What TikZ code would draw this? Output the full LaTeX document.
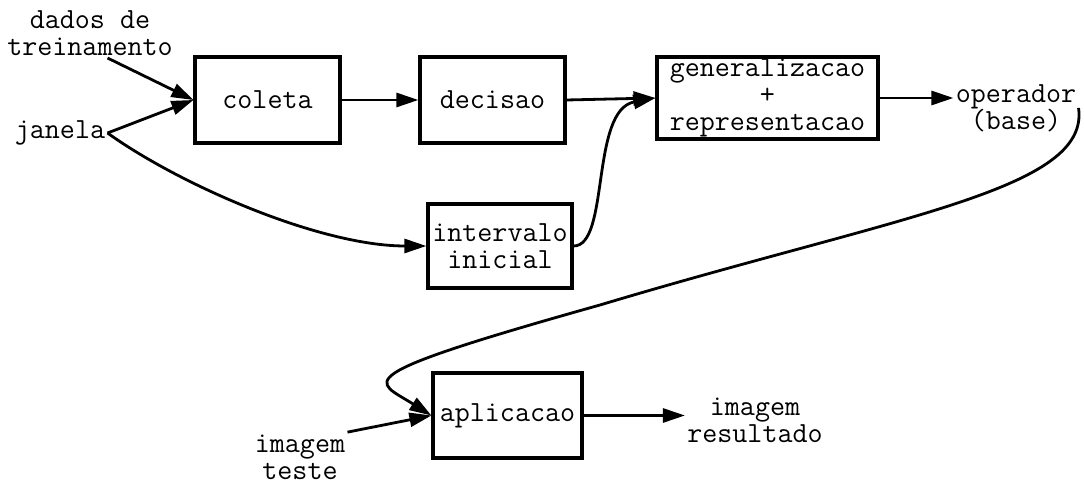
\documentclass[tikz,border=0pt]{standalone}
\usetikzlibrary{arrows.meta}
\tikzset{
  etapa/.style={draw,line width=1.6pt,inner sep=0pt,align=center,font=\ttfamily\fontsize{14.6}{13.6}\selectfont},
  rotulo/.style={inner sep=1pt,align=center,font=\ttfamily\fontsize{14.6}{13.6}\selectfont},
  fluxo/.style={line width=1.4pt,-{Triangle[length=11pt,width=7pt]}}
}

\begin{document}
\begin{tikzpicture}[x=0.5pt,y=-0.5pt]
\useasboundingbox (0,0) rectangle (1084,485);
% etapas
\node[etapa,minimum width=72.5pt,minimum height=43pt] (coleta) at (267.5,100) {coleta};
\node[etapa,minimum width=72.5pt,minimum height=43pt] (decisao) at (492.5,100) {decisao};
\node[etapa,minimum width=110.5pt,minimum height=41pt] (gen) at (767.5,98) {generalizacao\\+\\representacao};
\node[etapa,minimum width=72pt,minimum height=42pt] (interv) at (500,246) {intervalo\\inicial};
\node[etapa,minimum width=74.5pt,minimum height=42.5pt] (apl) at (507.5,415.5) {aplicacao};
% entradas e saidas
\node[rotulo] (dados) at (90,33) {dados de\\treinamento};
\node[rotulo] (janela) at (60,133) {janela};
\node[rotulo] (op) at (1016,108) {operador\\(base)};
\node[rotulo] (teste) at (300,457) {imagem\\teste};
\node[rotulo] (result) at (755,420) {imagem\\resultado};
% ligacoes
\draw[fluxo] (dados.-55) -- (coleta.west);
\draw[fluxo] (janela.east) -- (coleta.west);
\draw[fluxo] (janela.east) .. controls (180,185) and (320,246) .. (interv.west);
\draw[fluxo] (coleta.east) -- (decisao.west);
\draw[fluxo] (decisao.east) -- (gen.west);
\draw[fluxo] (interv.east) .. controls (610,246) and (590,110) .. (gen.west);
\draw[fluxo] (gen.east) -- (gen.east -| op.west);
\draw[fluxo] (op.east) .. controls (1090,190) and (900,215) .. (600,305)
  .. controls (340,378) and (375,380) .. (apl.west);
\draw[fluxo] (teste.north east) -- (apl.west);
\draw[fluxo] (apl.east) -- (apl.east -| result.west);
\end{tikzpicture}
\end{document}
